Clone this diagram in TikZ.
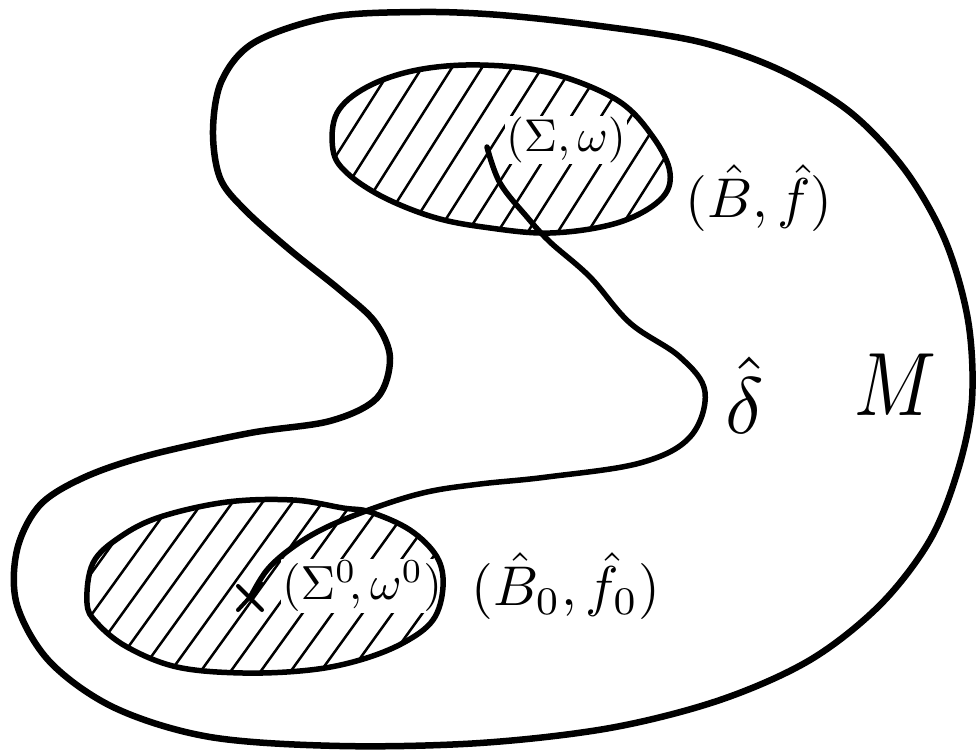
\documentclass[tikz,border=0pt]{standalone}
\usetikzlibrary{calc}
\newcommand{\TopEll}{plot[smooth cycle, tension=0.6] coordinates {(333,150) (337,113) (367,87) (417,70) (480,65) (550,73) (617,100) (653,137) (670,173) (660,200) (617,223) (550,233) (483,227) (433,217) (383,197) (347,173)}}
\newcommand{\BotEll}{plot[smooth cycle, tension=0.6] coordinates {(87,603) (93,563) (120,537) (160,517) (227,502) (293,500) (343,508) (370,512) (410,530) (437,557) (443,587) (433,620) (403,643) (360,660) (310,670) (243,673) (177,667) (127,647) (97,623)}}
\tikzset{
  outline/.style={line width=6.5pt, line join=round, line cap=round},
  ellline/.style={line width=5.5pt, line join=round},
  hatch/.style={line width=2.5pt, line cap=round},
  lbl/.style={inner sep=1pt, fill=white},
  lblplain/.style={inner sep=1pt}
}
\begin{document}
\begin{tikzpicture}[x=1pt, y=-1pt]
\useasboundingbox (0,0) rectangle (980,750);
% hatching of the top region
\begin{scope}
  \clip \TopEll;
  \foreach \a in {150,180,...,720} \draw[hatch] (\a,260) -- ++(130,-205);
\end{scope}
% hatching of the bottom region
\begin{scope}
  \clip \BotEll;
  \foreach \a in {-60,-30,...,460} \draw[hatch] (\a,700) -- ++(160,-222);
\end{scope}
% labels inside the hatched regions
\node[lbl] (sw) at (566,140) {\scalebox{4.6}{$(\Sigma,\omega)$}};
\node[lbl] (sw0) at (362,586) {\scalebox{4.8}{$(\Sigma^0\!,\omega^0)$}};
% outer manifold M
\draw[outline] plot[smooth cycle, tension=0.55] coordinates {(213,130) (222,80) (255,42) (330,17) (420,12) (500,15) (600,26) (700,42) (780,70) (850,112) (905,170) (945,240) (968,320) (972,400) (958,470) (930,540) (880,605) (810,660) (720,700) (610,728) (480,743) (340,746) (210,737) (115,708) (50,662) (17,605) (17,550) (40,505) (85,477) (150,455) (250,433) (330,421) (377,398) (390,358) (375,322) (340,290) (290,250) (245,210) (220,178)};
% the two regions
\draw[ellline] \TopEll;
\draw[ellline] \BotEll;
% endpoints of the curve
\coordinate (s) at (487,147);
\coordinate (x0) at (250,598);
\draw[line width=4pt, line cap=round] ($(x0)+(-12,-12)$) -- ($(x0)+(12,12)$);
\draw[line width=4pt, line cap=round] ($(x0)+(12,-14)$) -- ($(x0)+(-12,12)$);
% the curve delta hat
\draw[ellline, line cap=round] plot[smooth, tension=0.6] coordinates {(s) (500,183) (527,217) (550,242) (590,277) (630,323) (680,357) (705,392) (690,437) (640,463) (547,477) (480,484) (427,492) (377,507) (327,527) (293,547) (267,570) (x0)};
% outer labels
\node[lblplain] (bf) at (759,198) {\scalebox{5.6}{$(\hat B,\hat f)$}};
\node[lblplain] (bf0) at (566,586) {\scalebox{5.6}{$(\hat B_0,\hat f_0)$}};
\node[lblplain] (delta) at (745,395) {\scalebox{8}{$\hat\delta$}};
\node[lblplain] (M) at (895,385) {\scalebox{7.6}[9]{$M$}};
\end{tikzpicture}
\end{document}
